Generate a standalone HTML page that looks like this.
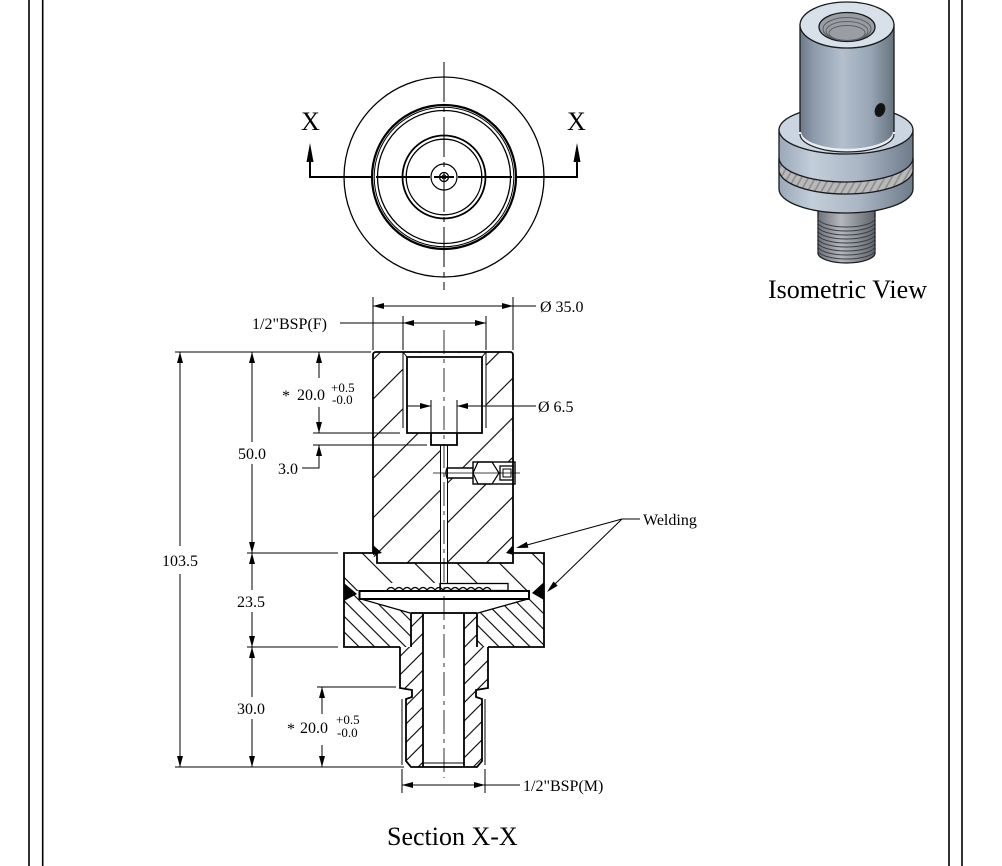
<!DOCTYPE html>
<html><head><meta charset="utf-8"><style>
html,body{margin:0;padding:0;background:#fff;}
svg{display:block;}
text{font-family:"Liberation Serif","DejaVu Serif",serif;fill:#000;}
</style></head><body>
<svg width="1002" height="866" viewBox="0 0 1002 866" xmlns="http://www.w3.org/2000/svg">
<defs>
<pattern id="pA" width="28" height="28" patternUnits="userSpaceOnUse" patternTransform="rotate(45)"><line x1="14" y1="0" x2="14" y2="28" stroke="#000" stroke-width="1.1"/></pattern>
<pattern id="pB" width="11" height="11" patternUnits="userSpaceOnUse" patternTransform="rotate(-45)"><line x1="5.5" y1="0" x2="5.5" y2="11" stroke="#000" stroke-width="1.1"/></pattern>
<pattern id="pD" width="30" height="30" patternUnits="userSpaceOnUse" patternTransform="rotate(-45)"><line x1="15" y1="0" x2="15" y2="30" stroke="#000" stroke-width="1.1"/></pattern>
<pattern id="pC" width="13" height="13" patternUnits="userSpaceOnUse" patternTransform="rotate(45)"><line x1="6" y1="0" x2="6" y2="13" stroke="#000" stroke-width="1.1"/></pattern>
<pattern id="pW" width="6" height="6" patternUnits="userSpaceOnUse" patternTransform="rotate(30)"><rect width="6" height="6" fill="#b9b9b9"/><line x1="3" y1="0" x2="3" y2="6" stroke="#8a8a8a" stroke-width="1.5"/></pattern>
<linearGradient id="gCyl" x1="0" y1="0" x2="1" y2="0">
<stop offset="0" stop-color="#6a7888"/><stop offset="0.15" stop-color="#8d9bac"/><stop offset="0.45" stop-color="#b3bfcc"/><stop offset="0.75" stop-color="#97a5b5"/><stop offset="1" stop-color="#66747f"/></linearGradient>
<linearGradient id="gFl" x1="0" y1="0" x2="1" y2="0">
<stop offset="0" stop-color="#9aa8b8"/><stop offset="0.25" stop-color="#c3cedb"/><stop offset="0.6" stop-color="#aab6c4"/><stop offset="1" stop-color="#6e7b8a"/></linearGradient>
<linearGradient id="gNip" x1="0" y1="0" x2="1" y2="0">
<stop offset="0" stop-color="#6d7278"/><stop offset="0.4" stop-color="#b4b8bd"/><stop offset="1" stop-color="#5f656b"/></linearGradient>
</defs>
<rect width="1002" height="866" fill="#fff"/>

<!-- border lines -->
<line x1="29" y1="0" x2="29" y2="866" stroke="#000" stroke-width="1.6"/>
<line x1="42.7" y1="0" x2="42.7" y2="866" stroke="#000" stroke-width="1.6"/>
<line x1="949" y1="0" x2="949" y2="866" stroke="#000" stroke-width="1.6"/>
<line x1="962" y1="0" x2="962" y2="866" stroke="#000" stroke-width="1.6"/>

<!-- ============ TOP VIEW ============ -->
<g fill="none" stroke="#000">
<circle cx="444" cy="177" r="100" stroke-width="1.3"/>
<circle cx="444" cy="177" r="72" stroke-width="2.2"/>
<circle cx="444" cy="177" r="69.8" stroke-width="1"/>
<circle cx="444" cy="177" r="66.5" stroke-width="1.3"/>
<circle cx="444" cy="177" r="41.5" stroke-width="1.8"/>
<circle cx="444" cy="177" r="37.8" stroke-width="1.3"/>
<circle cx="444" cy="177" r="13" stroke-width="1.2"/>
<circle cx="444" cy="177" r="4.5" stroke-width="1.3"/>
<circle cx="444" cy="177" r="2" stroke-width="1"/>
<line x1="444" y1="62" x2="444" y2="290" stroke-width="1" stroke-dasharray="40,5,5,5"/>
<line x1="310" y1="177" x2="372" y2="177" stroke-width="2"/>
<line x1="376" y1="177" x2="430" y2="177" stroke-width="2"/>
<line x1="434" y1="177" x2="454" y2="177" stroke-width="2"/>
<line x1="458" y1="177" x2="512" y2="177" stroke-width="2"/>
<line x1="516" y1="177" x2="577" y2="177" stroke-width="2"/>
<line x1="310" y1="160" x2="310" y2="178" stroke-width="2"/>
<line x1="577" y1="160" x2="577" y2="178" stroke-width="2"/>
</g>
<polygon points="310,143 306.5,162 313.5,162" fill="#000"/>
<polygon points="577,143 573.5,162 580.5,162" fill="#000"/>
<text x="301" y="130" font-size="26">X</text>
<text x="567" y="130" font-size="26">X</text>

<!-- ============ ISOMETRIC ============ -->
<g stroke="#1a1a1a" stroke-width="1.3">
<!-- nipple -->
<path d="M818,205 L818,253 A28.5,10 0 0 0 875,253 L875,205 Z" fill="url(#gNip)"/>
<g fill="none" stroke="#3c4046" stroke-width="1">
<path d="M818,218 A28.5,9 0 0 0 875,218"/><path d="M818,222 A28.5,9 0 0 0 875,222"/><path d="M818,226 A28.5,9 0 0 0 875,226"/>
<path d="M818,230 A28.5,9 0 0 0 875,230"/><path d="M818,234 A28.5,9 0 0 0 875,234"/>
<path d="M818,238 A28.5,9 0 0 0 875,238"/><path d="M818,242 A28.5,9 0 0 0 875,242"/>
<path d="M818,246 A28.5,9 0 0 0 875,246"/><path d="M818,250 A28.5,9 0 0 0 875,250"/>
</g>
<!-- flange -->
<path d="M779,130 L779,189 A67,24 0 0 0 913,189 L913,130 Z" fill="url(#gFl)"/>
<path d="M779,158 A67,24 0 0 0 913,158 L913,170 A67,24 0 0 1 779,170 Z" fill="url(#pW)"/>
<ellipse cx="846" cy="130" rx="67" ry="24" fill="#cbd5e1"/>
<!-- cylinder -->
<path d="M800,25 L800,132 A47,18 0 0 0 894,132 L894,25 Z" fill="url(#gCyl)"/>
<path d="M800,132 A47,18 0 0 0 894,132" fill="none" stroke="#e8edf2" stroke-width="2.5"/>
<path d="M800,134 A47,18 0 0 0 894,134" fill="none" stroke="#222" stroke-width="1.2"/>
<ellipse cx="847" cy="25" rx="47" ry="23" fill="#d8e0ea"/>
<ellipse cx="847" cy="27" rx="28" ry="14.5" fill="#9a9ea4"/>
<g fill="none" stroke="#5d6166" stroke-width="1">
<ellipse cx="847" cy="29" rx="24" ry="11.5"/><ellipse cx="847" cy="31" rx="21" ry="9.5"/><ellipse cx="847" cy="33" rx="18" ry="7.5"/>
</g>
<ellipse cx="880" cy="110" rx="4.5" ry="6.5" fill="#111" transform="rotate(20 880 110)"/>
</g>
<text x="768" y="298" font-size="26">Isometric View</text>

<!-- ============ SECTION ============ -->
<!-- flange: upper ring (sparse) + lower flange (dense) -->
<rect x="344" y="553" width="200" height="38" fill="url(#pD)"/>
<rect x="344" y="591" width="200" height="56" fill="url(#pB)"/>
<!-- top block -->
<path d="M376,352 L510,352 Q513,352 513,355 L513,563 L377,563 L373,555 L373,355 Q373,352 376,352 Z" fill="#fff"/>
<path d="M376,352 L510,352 Q513,352 513,355 L513,563 L377,563 L373,555 L373,355 Q373,352 376,352 Z" fill="url(#pA)"/>
<!-- nipple -->
<path d="M411,612 L477,612 L477,647 L488,647 L488,688 L476,690 L476,697 L482,699 L482,761 L477,767 L411,767 L406,761 L406,699 L412,697 L412,690 L400,688 L400,647 L411,647 Z" fill="#fff"/>
<path d="M411,612 L477,612 L477,647 L488,647 L488,688 L476,690 L476,697 L482,699 L482,761 L477,767 L411,767 L406,761 L406,699 L412,697 L412,690 L400,688 L400,647 L411,647 Z" fill="url(#pC)"/>

<!-- holes (white) -->
<g fill="#fff" stroke="none">
<rect x="403" y="352.8" width="83" height="80"/>
<rect x="431" y="433" width="26" height="12"/>
<rect x="440" y="445" width="8" height="140"/>
<rect x="445" y="468" width="28" height="10"/>
<rect x="473" y="462" width="42" height="22"/>
<rect x="383" y="583" width="127" height="8"/>
<rect x="359" y="590" width="170" height="9"/>
<polygon points="360,599 528,599 480,613 410,613"/>
<rect x="423" y="613" width="41" height="154"/>
</g>

<g fill="none" stroke="#000" stroke-width="1.8" stroke-linejoin="miter">
<!-- top block outline -->
<path d="M376,352 L510,352 Q513,352 513,355 L513,553"/>
<path d="M373,553 L373,355 Q373,352 376,352"/>
<path d="M377,553 L377,563 L513,563 L513,553"/>
<!-- flange -->
<path d="M377,553 L344,553 L344,647 L400,647"/>
<path d="M513,553 L544,553 L544,647 L488,647"/>
<!-- bore -->
<path d="M407,357 L407,433 L482,433 L482,357 Z"/>
<path d="M431,433 L431,445 L457,445 L457,433"/>
<!-- diaphragm plate -->
<rect x="359.5" y="591" width="169.5" height="8" stroke-width="2"/>
<rect x="440" y="583.5" width="68" height="7" stroke-width="1.3"/>
<!-- cone -->
<path d="M361,599 L410,613 L478,613 L528,599" stroke-width="1.3"/>
<!-- nipple outline -->
<path d="M411,613 L477,613"/>
<path d="M411,613 L411,647 M477,613 L477,647"/>
<path d="M400,647 L400,688 L412,690 L412,697 L406,699 L406,761 L411,767 L477,767 L482,761 L482,699 L476,697 L476,690 L488,688 L488,647"/>
<path d="M423,614 L423,767 M464,614 L464,767"/>
<!-- side port -->
<path d="M473,468 L447,468 Q445,473 447,478 L473,478" stroke-width="1.4"/>
<rect x="473" y="462" width="42" height="22" stroke-width="1.4"/>
<polygon points="478,462 492,462 499,473 492,484 478,484 473,473" stroke-width="1.2"/>
<rect x="500" y="466" width="13" height="14" stroke-width="1.3"/>
<rect x="503" y="469" width="8" height="8" stroke-width="1"/>
</g>
<g fill="none" stroke="#000" stroke-width="1">
<line x1="403" y1="352" x2="403" y2="428"/>
<line x1="486" y1="352" x2="486" y2="428"/>
<line x1="403" y1="352" x2="407" y2="357"/>
<line x1="486" y1="352" x2="482" y2="357"/>
<line x1="440.5" y1="445" x2="440.5" y2="590"/>
<line x1="447.5" y1="445" x2="447.5" y2="583"/>
<line x1="402" y1="699" x2="402" y2="765"/>
<line x1="485" y1="699" x2="485" y2="765"/>
<line x1="423" y1="763" x2="464" y2="763"/>
<line x1="433" y1="473" x2="520" y2="473" stroke-width="0.8"/>
<path d="M387,590 q4,-5 8,0 q4,-5 8,0 q4,-5 8,0 q4,-5 8,0 q4,-5 8,0 q4,-5 8,0 q4,-5 8,0 q4,-5 8,0 q4,-5 8,0 q4,-5 8,0 q4,-5 8,0 q4,-5 8,0 q4,-5 8,0" stroke-width="1.2"/>
</g>
<!-- welds -->
<g fill="#000">
<polygon points="373,545 382,553 373,555"/>
<polygon points="513,545 506,553 514,555"/>
<polygon points="344,583 357,594 344,601"/>
<polygon points="544,582 532,593 544,600"/>
</g>
<!-- centerline -->
<line x1="444" y1="330" x2="444" y2="778" stroke="#000" stroke-width="0.8" stroke-dasharray="24,5,4,5"/>

<!-- ============ DIMENSIONS ============ -->
<g stroke="#000" stroke-width="1" fill="none">
<line x1="373" y1="297" x2="373" y2="350"/>
<line x1="513" y1="297" x2="513" y2="350"/>
<line x1="403" y1="316" x2="403" y2="350"/>
<line x1="486" y1="316" x2="486" y2="350"/>
<line x1="431" y1="400" x2="431" y2="433"/>
<line x1="457" y1="400" x2="457" y2="433"/>
<line x1="373" y1="306" x2="536" y2="306"/>
<line x1="340" y1="323" x2="486" y2="323"/>
<line x1="407" y1="406" x2="431" y2="406"/>
<line x1="457" y1="406" x2="536" y2="406"/>
<line x1="175" y1="352" x2="371" y2="352"/>
<line x1="313" y1="433" x2="400" y2="433"/>
<line x1="313" y1="445" x2="427" y2="445"/>
<line x1="247" y1="553" x2="338" y2="553"/>
<line x1="247" y1="647" x2="338" y2="647"/>
<line x1="317" y1="687" x2="396" y2="687"/>
<line x1="175" y1="767" x2="404" y2="767"/>
<line x1="180" y1="352" x2="180" y2="546"/>
<line x1="180" y1="574" x2="180" y2="767"/>
<line x1="252" y1="352" x2="252" y2="442"/>
<line x1="252" y1="464" x2="252" y2="553"/>
<line x1="252" y1="553" x2="252" y2="590"/>
<line x1="252" y1="612" x2="252" y2="647"/>
<line x1="252" y1="647" x2="252" y2="697"/>
<line x1="252" y1="719" x2="252" y2="767"/>
<line x1="319" y1="352" x2="319" y2="378"/>
<line x1="319" y1="407" x2="319" y2="433"/>
<polyline points="319,445 319,468 302,468"/>
<line x1="322" y1="687" x2="322" y2="714"/>
<line x1="322" y1="745" x2="322" y2="767"/>
<line x1="402" y1="769" x2="402" y2="793"/>
<line x1="485" y1="769" x2="485" y2="793"/>
<line x1="402" y1="785" x2="520" y2="785"/>
<line x1="622" y1="519" x2="640" y2="519"/>
<line x1="622" y1="519" x2="527" y2="545"/>
<line x1="622" y1="519" x2="555" y2="584"/>
</g>
<g fill="#000">
<polygon points="373,306 384,303 384,309"/>
<polygon points="513,306 502,303 502,309"/>
<polygon points="403,323 414,320 414,326"/>
<polygon points="486,323 475,320 475,326"/>
<polygon points="431,406 420,403 420,409"/>
<polygon points="457,406 468,403 468,409"/>
<polygon points="180,352 177,363 183,363"/>
<polygon points="180,767 177,756 183,756"/>
<polygon points="252,352 249,363 255,363"/>
<polygon points="252,553 249,542 255,542"/>
<polygon points="252,553 249,564 255,564"/>
<polygon points="252,647 249,636 255,636"/>
<polygon points="252,647 249,658 255,658"/>
<polygon points="252,767 249,756 255,756"/>
<polygon points="319,352 316,363 322,363"/>
<polygon points="319,433 316,422 322,422"/>
<polygon points="319,445 316,456 322,456"/>
<polygon points="322,687 319,698 325,698"/>
<polygon points="322,767 319,756 325,756"/>
<polygon points="402,785 413,782 413,788"/>
<polygon points="485,785 474,782 474,788"/>
<polygon points="516,548 526.8,541.9 528.4,547.7"/>
<polygon points="547,592 553.5,581.5 557.7,585.8"/>
</g>

<g font-size="16">
<text x="540" y="312">Ø 35.0</text>
<text x="538" y="412">Ø 6.5</text>
<text x="252" y="329">1/2"BSP(F)</text>
<text x="180" y="566" text-anchor="middle">103.5</text>
<text x="252" y="459" text-anchor="middle">50.0</text>
<text x="251" y="607" text-anchor="middle">23.5</text>
<text x="251" y="714" text-anchor="middle">30.0</text>
<text x="282" y="401">*</text>
<text x="297" y="400">20.0</text>
<text x="278" y="474">3.0</text>
<text x="287" y="734">*</text>
<text x="300" y="733">20.0</text>
<text x="523" y="791">1/2"BSP(M)</text>
<text x="643" y="525">Welding</text>
</g>
<g font-size="13">
<text x="331" y="392">+0.5</text>
<text x="332" y="404">-0.0</text>
<text x="336" y="724">+0.5</text>
<text x="337" y="737">-0.0</text>
</g>
<text x="387" y="845" font-size="26">Section X-X</text>
</svg>
</body></html>
